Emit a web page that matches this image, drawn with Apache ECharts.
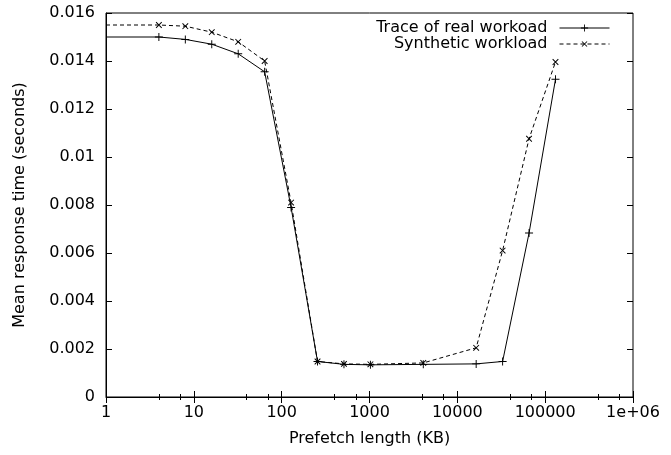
<!DOCTYPE html>
<html>
<head>
<meta charset="utf-8">
<script src="https://cdn.jsdelivr.net/npm/echarts@6/dist/echarts.min.js"></script>
<style>html,body{margin:0;padding:0;background:#fff}#c{width:671px;height:455px}</style>
</head>
<body>
<div id="c"></div>
<script>
var prefetchKB = [1, 4, 8, 16, 32, 64, 128, 256, 512, 1024, 4096, 16384, 32768, 65536, 131072];
var realTrace = [0.0150, 0.0150, 0.0149, 0.0147, 0.0143, 0.01355, 0.0079, 0.00148, 0.00136, 0.00134, 0.00136, 0.00138, 0.00148, 0.00683, 0.01324];
var synthetic = [0.0155, 0.0155, 0.01545, 0.0152, 0.0148, 0.0140, 0.0081, 0.00148, 0.00138, 0.00136, 0.00142, 0.00205, 0.0061, 0.01076, 0.01396];
var xTickLabels = {1: '1', 10: '10', 100: '100', 1000: '1000', 10000: '10000', 100000: '100000', 1000000: '1e+06'};
var seriesNames = ['Trace of real workoad', 'Synthetic workload'];

var FONT = 'DejaVu Sans, sans-serif';
var FS = 16;
var plusPath = 'path://M4.4,0h1.2v10h-1.2zM0,4.4h10v1.2h-10z';

// the point at x=1 sits on the left border and shows no marker in the reference
function pairs(xs, ys) {
  return xs.map(function (x, i) {
    return x <= 1 ? {value: [x, ys[i]], symbol: 'none'} : [x, ys[i]];
  });
}

var chart = echarts.init(document.getElementById('c'), null, {renderer: 'canvas'});
var tickStyle = {show: true, inside: true, length: 6, lineStyle: {color: '#000', width: 1}};
var minorStyle = {show: true, splitNumber: 3, length: 3, lineStyle: {color: '#000', width: 1}};
var legendCommon = {
  right: 61, align: 'right', itemWidth: 50, itemHeight: 9, padding: 0,
  lineStyle: {width: 1},
  textStyle: {fontFamily: FONT, fontSize: FS, color: '#000', padding: [0, 7, 0, 0]}
};
chart.setOption({
  animation: false,
  backgroundColor: '#fff',
  grid: {left: 106, right: 38, top: 13, bottom: 58, show: true, borderColor: '#000', borderWidth: 1},
  legend: [
    Object.assign({data: [seriesNames[0]], top: 20}, legendCommon),
    Object.assign({data: [seriesNames[1]], top: 36}, legendCommon)
  ],
  xAxis: [{
    type: 'log', logBase: 10, min: 1, max: 1000000,
    name: 'Prefetch length (KB)', nameLocation: 'middle', nameGap: 34,
    nameTextStyle: {fontFamily: FONT, fontSize: FS, color: '#000'},
    axisLine: {show: true, lineStyle: {color: '#000', width: 1}},
    axisTick: tickStyle,
    minorTick: minorStyle,
    splitLine: {show: false},
    axisLabel: {fontFamily: FONT, fontSize: FS, color: '#000', margin: 8,
      formatter: function (v) { var k = Math.round(v); return xTickLabels[k] !== undefined ? xTickLabels[k] : ''; }}
  }, {
    type: 'log', logBase: 10, min: 1, max: 1000000, position: 'top',
    axisLine: {show: false}, axisTick: tickStyle, minorTick: minorStyle,
    splitLine: {show: false}, axisLabel: {show: false}
  }],
  yAxis: [{
    type: 'value', min: 0, max: 0.016, interval: 0.002,
    name: 'Mean response time (seconds)', nameLocation: 'middle', nameGap: 78,
    nameTextStyle: {fontFamily: FONT, fontSize: FS, color: '#000'},
    axisLine: {show: true, lineStyle: {color: '#000', width: 1}},
    axisTick: tickStyle,
    splitLine: {show: false},
    axisLabel: {fontFamily: FONT, fontSize: FS, color: '#000', margin: 11,
      formatter: function (v) { return String(parseFloat(v.toFixed(4))); }}
  }, {
    type: 'value', min: 0, max: 0.016, interval: 0.002, position: 'right',
    axisLine: {show: false}, axisTick: tickStyle, splitLine: {show: false}, axisLabel: {show: false}
  }],
  series: [{
    name: seriesNames[0], type: 'line', data: pairs(prefetchKB, realTrace),
    symbol: plusPath, symbolSize: 8, showSymbol: true,
    lineStyle: {color: '#000', width: 1, type: 'solid'},
    itemStyle: {color: '#000'}, z: 3
  }, {
    name: seriesNames[1], type: 'line', data: pairs(prefetchKB, synthetic),
    symbol: plusPath, symbolSize: 8, symbolRotate: 45, showSymbol: true,
    lineStyle: {color: '#000', width: 1, type: [4, 3]},
    itemStyle: {color: '#000'}, z: 2
  }]
});
</script>
</body>
</html>
